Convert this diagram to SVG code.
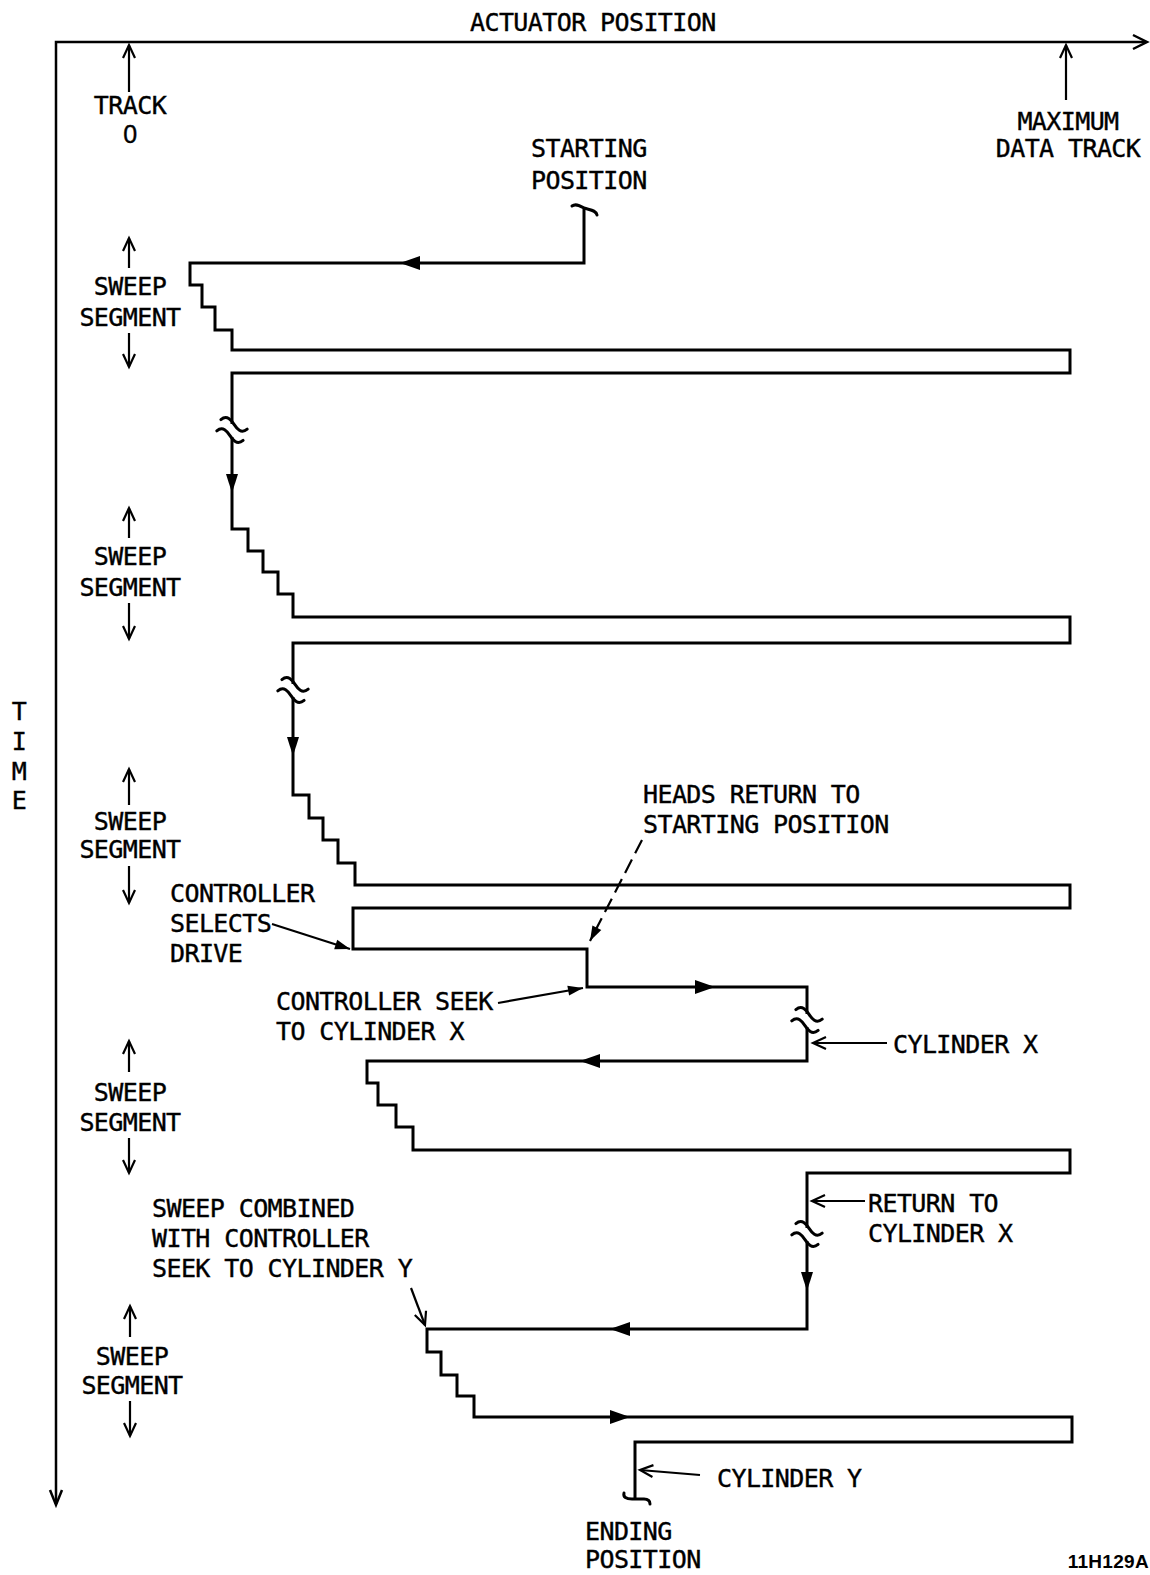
<svg xmlns="http://www.w3.org/2000/svg" xmlns:xlink="http://www.w3.org/1999/xlink" width="1150" height="1575" viewBox="0 0 1150 1575">
<style>
text{font-family:"DejaVu Sans Mono","Liberation Mono",monospace;font-size:25px;letter-spacing:-0.6px;fill:#000;stroke:#000;stroke-width:0.4}
.c{text-anchor:middle}
.ln{fill:none;stroke:#000;stroke-width:3;stroke-linejoin:miter}
.ax{fill:none;stroke:#000;stroke-width:2.5}
.la{fill:none;stroke:#000;stroke-width:2.2}
.hd{fill:#000;stroke:none}
.z{font-family:"Liberation Sans",Arial,sans-serif}
.id{font-family:"Liberation Sans",Arial,sans-serif;font-size:19px;font-weight:bold;letter-spacing:0.3px;text-anchor:end;stroke-width:0}
</style>
<defs>
<marker id="fa" viewBox="-16 -8 18 16" markerWidth="18" markerHeight="16" refX="0" refY="0" orient="auto" markerUnits="userSpaceOnUse"><path d="M0,0 L-15,-5 L-15,5 Z" fill="#000"/></marker>
<marker id="oa" viewBox="-16 -9 19 18" markerWidth="19" markerHeight="18" refX="0" refY="0" orient="auto" markerUnits="userSpaceOnUse"><path d="M-13,-6 L0,0 L-13,6" fill="none" stroke="#000" stroke-width="2.2"/></marker>
<g id="brk"><rect x="-4" y="-6" width="8" height="13" fill="#fff"/><g transform="rotate(20)" fill="none" stroke="#000" stroke-width="3" stroke-linecap="round"><path d="M-14,-6 C-10,-13 -4,-9 0,-6 C4,-3 10,1 14,-6"/><path d="M-14,6 C-10,-1 -4,3 0,6 C4,9 10,13 14,6"/></g></g>
</defs>
<rect width="1150" height="1575" fill="#fff"/>

<g id="axes">
<path class="ax" d="M56,1504 V42 H1146"/>
<path class="ax" d="M1133,35 L1147,42 L1133,49"/>
<path class="ax" d="M50,1490 L56,1505 L62,1490"/>
<text id="actuator-label" x="470" y="31">ACTUATOR POSITION</text>
<g id="time-label"><text class="c" x="19" y="720">T</text><text class="c" x="19" y="750">I</text><text class="c" x="19" y="780">M</text><text class="c" x="19" y="809">E</text></g>
</g>

<g id="connectors">
<path class="ln" d="M584,209 V263 H190 V285 H202 V307 H215 V330 H232 V350 H1070 V373 H232 V529 H248 V551 H263 V572 H278 V594 H293 V617 H1070 V643 H293 V795 H309 V818 H323 V840 H338 V863 H355 V885 H1070 V908 H353 V949 H587 V987 H807 V1061 H367 V1083 H378 V1105 H396 V1127 H413 V1150 H1070 V1173 H807 V1329 H427 V1352 H441 V1375 H457 V1396 H474 V1417 H1072 V1442 H635 V1498"/>
<path class="ln" stroke-linecap="round" d="M572,206 C576,203 580,206 584,208 C590,210 596,210 597,215"/>
<path class="ln" stroke-linecap="round" d="M624,1493 C623,1497 626,1499 632,1499 L644,1499 C648,1499 650,1501 650,1504"/>
<polygon class="hd" points="400,263 420,256 420,270"/>
<polygon class="hd" points="232,493 226,474 238,474"/>
<polygon class="hd" points="293,756 287,737 299,737"/>
<polygon class="hd" points="715,987 695,980 695,994"/>
<polygon class="hd" points="580,1061 600,1054 600,1068"/>
<polygon class="hd" points="807,1291 801,1272 813,1272"/>
<polygon class="hd" points="610,1329 630,1322 630,1336"/>
<polygon class="hd" points="630,1417 610,1410 610,1424"/>
<use xlink:href="#brk" href="#brk" transform="translate(232,430)"/>
<use xlink:href="#brk" href="#brk" transform="translate(293,690)"/>
<use xlink:href="#brk" href="#brk" transform="translate(807,1020)"/>
<use xlink:href="#brk" href="#brk" transform="translate(807,1234)"/>
<path class="la" d="M272,924 L350,949" marker-end="url(#fa)"/>
<path class="la" d="M498,1003 L583,988" marker-end="url(#fa)"/>
<path class="la" d="M642,840 L590,941" stroke-dasharray="15,7" marker-end="url(#fa)"/>
<path class="la" d="M887,1043 L813,1043" marker-end="url(#oa)"/>
<path class="la" d="M865,1201 L812,1201" marker-end="url(#oa)"/>
<path class="la" d="M411,1288 L425,1325" marker-end="url(#oa)"/>
<path class="la" d="M700,1475 L640,1470" marker-end="url(#oa)"/>
</g>

<g id="track0">
<path class="la" d="M129,92 V45" marker-end="url(#oa)"/>
<text class="c" x="130" y="114">TRACK</text><text class="c z" x="130" y="143">0</text>
</g>
<g id="max-track">
<path class="la" d="M1066,100 V45" marker-end="url(#oa)"/>
<text class="c" x="1068" y="130">MAXIMUM</text><text class="c" x="1068" y="157">DATA TRACK</text>
</g>
<g id="starting-position"><text x="531" y="157">STARTING</text><text x="531" y="189">POSITION</text></g>

<g id="sweep1">
<path class="la" d="M129,268 V238" marker-end="url(#oa)"/>
<text class="c" x="130" y="295">SWEEP</text><text class="c" x="130" y="326">SEGMENT</text>
<path class="la" d="M129,333 V367" marker-end="url(#oa)"/>
</g>
<g id="sweep2">
<path class="la" d="M129,538 V508" marker-end="url(#oa)"/>
<text class="c" x="130" y="565">SWEEP</text><text class="c" x="130" y="596">SEGMENT</text>
<path class="la" d="M129,603 V639" marker-end="url(#oa)"/>
</g>
<g id="sweep3">
<path class="la" d="M129,805 V769" marker-end="url(#oa)"/>
<text class="c" x="130" y="830">SWEEP</text><text class="c" x="130" y="858">SEGMENT</text>
<path class="la" d="M129,866 V903" marker-end="url(#oa)"/>
</g>
<g id="sweep4">
<path class="la" d="M129,1072 V1041" marker-end="url(#oa)"/>
<text class="c" x="130" y="1101">SWEEP</text><text class="c" x="130" y="1131">SEGMENT</text>
<path class="la" d="M129,1138 V1173" marker-end="url(#oa)"/>
</g>
<g id="sweep5">
<path class="la" d="M130,1337 V1306" marker-end="url(#oa)"/>
<text class="c" x="132" y="1365">SWEEP</text><text class="c" x="132" y="1394">SEGMENT</text>
<path class="la" d="M130,1401 V1436" marker-end="url(#oa)"/>
</g>

<g id="controller-selects"><text x="170" y="902">CONTROLLER</text><text x="170" y="932">SELECTS</text><text x="170" y="962">DRIVE</text></g>
<g id="heads-return"><text x="643" y="803">HEADS RETURN TO</text><text x="643" y="833">STARTING POSITION</text></g>
<g id="controller-seek"><text x="276" y="1010">CONTROLLER SEEK</text><text x="276" y="1040">TO CYLINDER X</text></g>
<g id="cylinder-x"><text x="893" y="1053">CYLINDER X</text></g>
<g id="return-to-x"><text x="868" y="1212">RETURN TO</text><text x="868" y="1242">CYLINDER X</text></g>
<g id="sweep-combined"><text x="152" y="1217">SWEEP COMBINED</text><text x="152" y="1247">WITH CONTROLLER</text><text x="152" y="1277">SEEK TO CYLINDER Y</text></g>
<g id="cylinder-y"><text x="717" y="1487">CYLINDER Y</text></g>
<g id="ending-position"><text x="585" y="1540">ENDING</text><text x="585" y="1568">POSITION</text></g>
<text class="id" x="1149" y="1568">11H129A</text>
</svg>
